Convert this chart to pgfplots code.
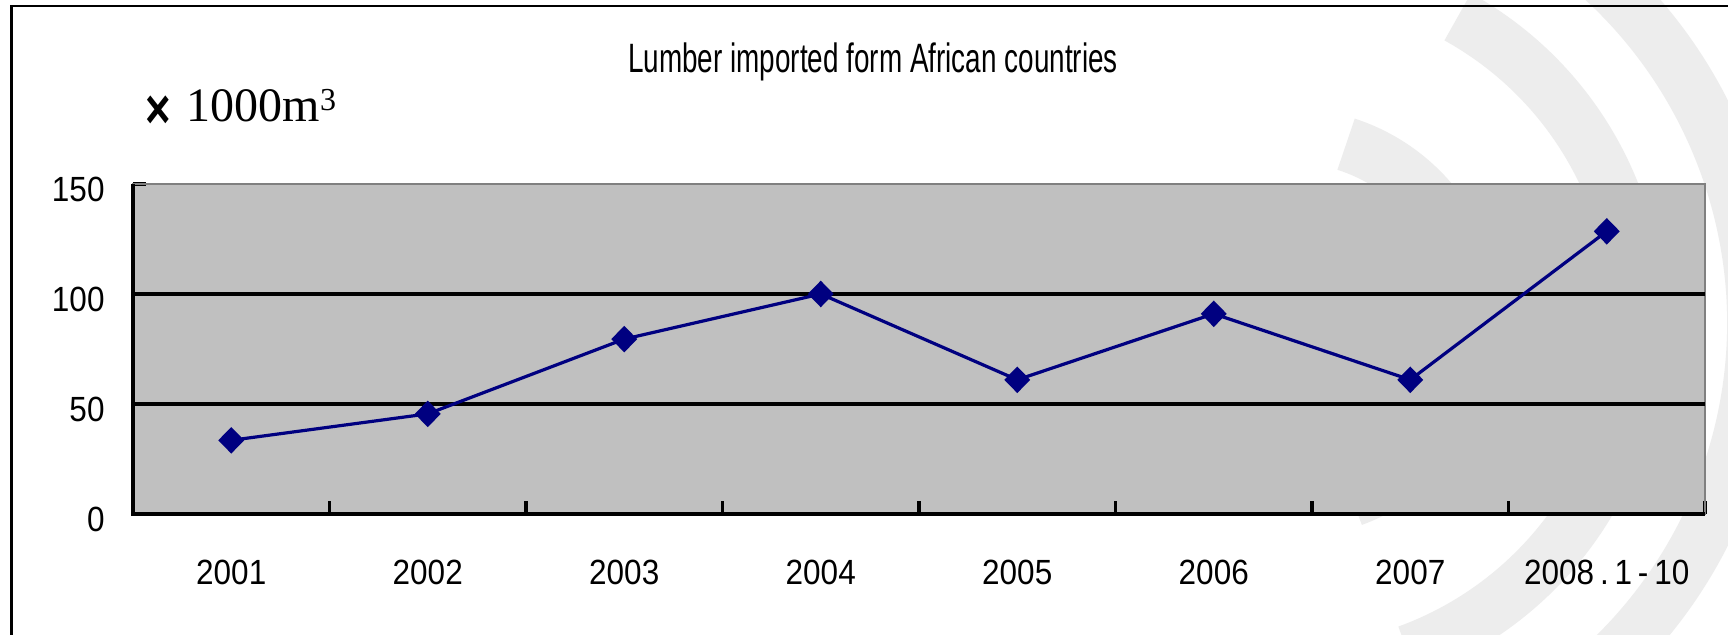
\documentclass[border=0pt]{standalone}
\usepackage{fontspec}
\setmainfont{Liberation Sans}
\newfontfamily\tickfont{Liberation Sans}[FakeStretch=0.9]
\newfontfamily\titlefont{Liberation Sans}[FakeStretch=0.68]
\newfontfamily\crossfont{Liberation Sans}[FakeStretch=0.78]
\newfontfamily\serifunit{Liberation Serif}
\usepackage{pgfplots}
\pgfplotsset{compat=1.18}
\definecolor{navyline}{RGB}{0,0,128}
\definecolor{plotgray}{RGB}{192,192,192}
\definecolor{wm}{RGB}{237,237,237}
\begin{document}
\begin{tikzpicture}
\useasboundingbox (0,0) rectangle (864pt,317.5pt);
\path[fill=white] (0,0) rectangle (864pt,317.5pt);
\begin{scope}
\clip (0,0) rectangle (864pt,317.5pt);
\draw[wm, line width=27pt] (644pt,156pt) ++(72:94pt) arc[start angle=72,end angle=-70,radius=94pt];
\draw[wm, line width=27pt] (644pt,156pt) ++(61:175pt) arc[start angle=61,end angle=-70,radius=175pt];
\draw[wm, line width=27pt] (644pt,156pt) ++(70:233pt) arc[start angle=70,end angle=-70,radius=233pt];
\end{scope}
\draw[line width=1.4pt] (5.85pt,-2pt) -- (5.85pt,314.5pt) -- (866pt,314.5pt);
\node[font=\titlefont\fontsize{20.5}{20.5}\selectfont, anchor=base] at (436.5pt,281.3pt) {Lumber imported form African countries};
\node[anchor=base west, inner sep=0pt] at (72.5pt,256.6pt) {\raisebox{-3.6pt}{\crossfont\bfseries\fontsize{28}{28}\selectfont ×}\hspace{8pt}{\serifunit\fontsize{24}{24}\selectfont 1000m\raisebox{5.8pt}{\fontsize{16}{16}\selectfont 3}}};
\begin{axis}[at={(66.5pt,60.5pt)}, anchor=south west, scale only axis,
  width=786pt, height=165pt,
  xmin=-0.5, xmax=7.5, ymin=0, ymax=150,
  axis background/.style={fill=plotgray},
  axis line style={draw=gray, line width=0.9pt},
  xtick={-0.5,0.5,...,7.5}, xticklabels={},
  extra x ticks={0,1,2,3,4,5,6,7},
  extra x tick labels={2001,2002,2003,2004,2005,2006,2007,2008\,.\,1\,-\,10},
  extra x tick style={major tick length=0pt},
  xtick pos=bottom, ytick pos=left,
  ytick={0,50,100,150},
  extra y ticks={50,100}, extra y tick labels={},
  extra y tick style={grid=major, major grid style={black, line width=1.7pt}},
  major tick length=6.5pt,
  tick align=inside,
  tick style={black, line width=1.6pt},
  /pgf/number format/assume math mode=true,
  tick label style={font=\tickfont\fontsize{17.5}{18}\selectfont},
  xticklabel style={yshift=-19.5pt},
  yticklabel style={xshift=-10.7pt, yshift=-2.5pt},
  clip=false,
]
\addplot[navyline, line width=1.6pt, mark=diamond*, mark size=5.5pt, mark options={xscale=1.3, fill=navyline, draw=navyline}]
  coordinates {(0,33.5)(1,45.5)(2,79.5)(3,100)(4,61)(5,91)(6,61)(7,128.5)};
\draw[black, line width=1.7pt] (rel axis cs:0,1) -- (rel axis cs:0,0) -- (rel axis cs:1,0);
\end{axis}
\end{tikzpicture}
\end{document}
